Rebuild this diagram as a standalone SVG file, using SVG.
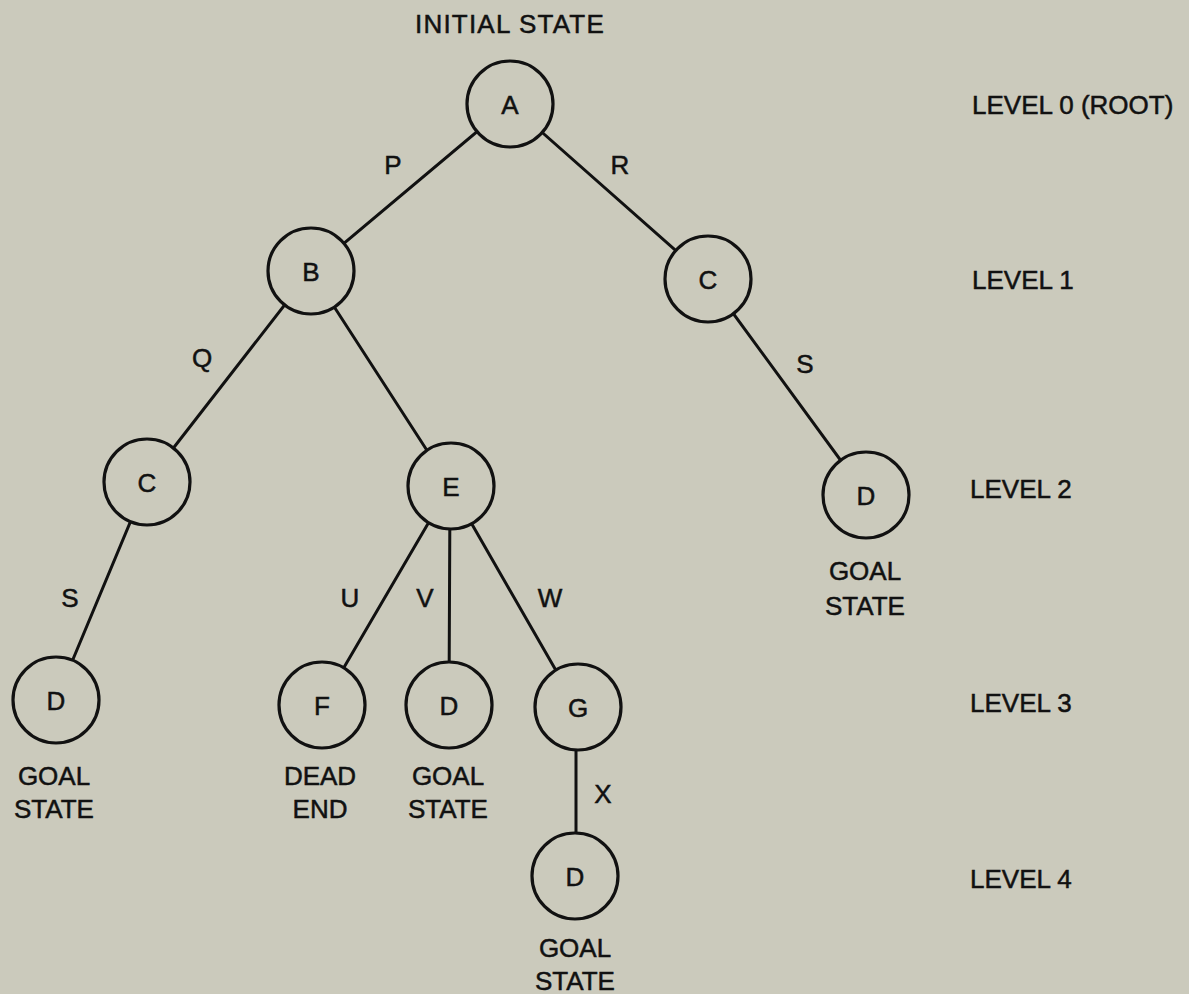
<svg xmlns="http://www.w3.org/2000/svg" width="1189" height="994" viewBox="0 0 1189 994">
<style>
.bg{fill:#cbcabc}
.node circle{fill:#cbcabc;stroke:#111;stroke-width:3.2}
.conn line{stroke:#111;stroke-width:3;stroke-linecap:round}
text{font-family:"Liberation Sans",Arial,sans-serif;font-size:26px;fill:#111;stroke:#111;stroke-width:0.5}
.c{text-anchor:middle}
</style>
<rect class="bg" x="0" y="0" width="1189" height="994"/>
<g id="connectors" class="conn">
<line x1="510" y1="104" x2="311" y2="271"/>
<line x1="510" y1="104" x2="708" y2="279"/>
<line x1="311" y1="271" x2="147" y2="482"/>
<line x1="311" y1="271" x2="450" y2="486"/>
<line x1="708" y1="279" x2="866" y2="495"/>
<line x1="147" y1="482" x2="56" y2="700"/>
<line x1="450" y1="486" x2="322" y2="705"/>
<line x1="450" y1="486" x2="449" y2="705"/>
<line x1="450" y1="486" x2="577" y2="707"/>
<line x1="576" y1="707" x2="576" y2="876"/>
</g>
<g id="edge-labels">
<text class="c" x="393" y="174">P</text>
<text class="c" x="620" y="174">R</text>
<text class="c" x="202" y="367">Q</text>
<text class="c" x="805" y="373">S</text>
<text class="c" x="70" y="607">S</text>
<text class="c" x="350" y="607">U</text>
<text class="c" x="425" y="607">V</text>
<text class="c" x="550" y="607">W</text>
<text class="c" x="603" y="803">X</text>
</g>
<g id="node-A" class="node"><circle cx="510" cy="104" r="43"/><text class="c" x="510" y="113.5">A</text></g>
<g id="node-B" class="node"><circle cx="311" cy="271" r="43"/><text class="c" x="311" y="280.5">B</text></g>
<g id="node-C1" class="node"><circle cx="708" cy="279" r="43"/><text class="c" x="708" y="288.5">C</text></g>
<g id="node-C2" class="node"><circle cx="147" cy="482" r="43"/><text class="c" x="147" y="491.5">C</text></g>
<g id="node-E" class="node"><circle cx="451" cy="486" r="43"/><text class="c" x="451" y="495.5">E</text></g>
<g id="node-D2" class="node"><circle cx="866" cy="495" r="43"/><text class="c" x="866" y="504.5">D</text></g>
<g id="node-D3a" class="node"><circle cx="56" cy="700" r="43"/><text class="c" x="56" y="709.5">D</text></g>
<g id="node-F" class="node"><circle cx="322" cy="705" r="43"/><text class="c" x="322" y="714.5">F</text></g>
<g id="node-D3b" class="node"><circle cx="449" cy="705" r="43"/><text class="c" x="449" y="714.5">D</text></g>
<g id="node-G" class="node"><circle cx="578" cy="707" r="43"/><text class="c" x="578" y="716.5">G</text></g>
<g id="node-D4" class="node"><circle cx="575" cy="876" r="43"/><text class="c" x="575" y="885.5">D</text></g>
<g id="annotations">
<text class="c" x="510" y="33" letter-spacing="1.2">INITIAL STATE</text>
<text class="c" x="865" y="580">GOAL</text><text class="c" x="865" y="615">STATE</text>
<text class="c" x="54" y="785">GOAL</text><text class="c" x="54" y="818">STATE</text>
<text class="c" x="320" y="785">DEAD</text><text class="c" x="320" y="818">END</text>
<text class="c" x="448" y="785">GOAL</text><text class="c" x="448" y="818">STATE</text>
<text class="c" x="575" y="957">GOAL</text><text class="c" x="575" y="990">STATE</text>
</g>
<g id="levels">
<text x="972" y="114">LEVEL 0 (ROOT)</text>
<text x="972" y="289">LEVEL 1</text>
<text x="970" y="498">LEVEL 2</text>
<text x="970" y="712">LEVEL 3</text>
<text x="970" y="888">LEVEL 4</text>
</g>
</svg>
